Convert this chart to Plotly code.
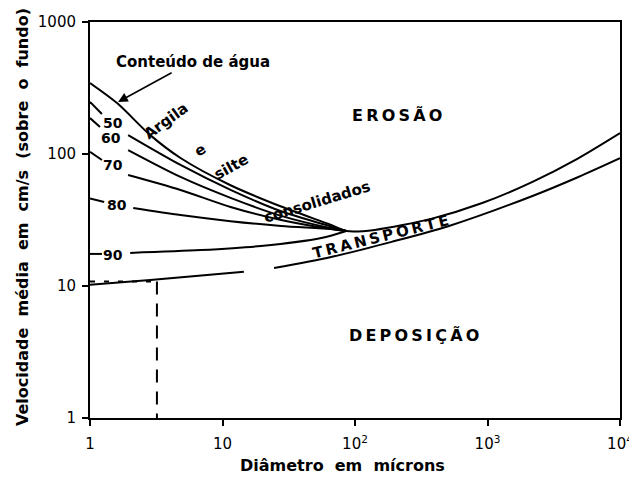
import numpy as np
import plotly.graph_objects as go

# ---------------- data ----------------
# upper boundary: "Argila e silte consolidados" curve continuing as the erosion threshold
top_x = [1, 1.6, 2.85, 4.82, 11.5, 27.7, 66, 86, 141, 381, 912, 2186, 4800, 10000]
top_y = [345, 243, 139, 93.3, 58, 40, 29, 26.1, 26.6, 32.4, 42.5, 61.5, 92.3, 144]

# water-content curves (stub from axis, gap for label, then the curve)
c50_x = [1, 1.23, None, 1.94, 4.82, 11.5, 27.7, 66, 86]
c50_y = [248, 201, None, 139, 82.6, 53.5, 36.8, 28.2, 26.1]
c60_x = [1, 1.19, None, 1.94, 4.82, 11.5, 27.7, 66, 86]
c60_y = [187, 160, None, 107, 67, 46.5, 34, 27.4, 26.1]
c70_x = [1, 1.23, None, 1.94, 4.82, 11.5, 27.7, 66, 86]
c70_y = [104, 90, None, 69.3, 53.4, 39.7, 31.6, 27, 26.1]
c80_x = [1, 1.28, None, 2.12, 4.82, 11.5, 27.7, 66, 86]
c80_y = [46, 43.3, None, 39, 34.5, 31, 28.5, 27, 26.1]
c90_x = [1, 1.23, None, 2.01, 6.84, 19.5, 55.7, 86]
c90_y = [17.5, 17.5, None, 17.8, 18.7, 20.1, 23.1, 26.1]

# lower boundary (deposition threshold)
low_x = [1, 2.85, 14.5, None, 24.5, 66, 189, 512, 2186, 4800, 10000]
low_y = [10.2, 11.1, 12.8, None, 13.7, 16.6, 21.6, 28.5, 48.1, 66.7, 93]

# dashed reference read-off
ref_x = [1, 3.2, 3.2]
ref_y = [10.8, 10.8, 1]

x_ticks = [1, 10, 100, 1000, 10000]
x_ticktext = ["1", "10", "10<sup>2</sup>", "10<sup>3</sup>", "10<sup>4</sup>"]
y_ticks = [1, 10, 100, 1000]
y_ticktext = ["1", "10", "100", "1000"]
curve_labels = ["50", "60", "70", "80", "90"]

# ---------------- figure ----------------
W, H = 629, 479
L, R, T, B = 90, 9, 22, 61
FONT = "DejaVu Sans"

def P(px, py):
    return (px - L) / (W - L - R), (H - B - py) / (H - T - B)

fig = go.Figure()
line = dict(color="black", width=2, shape="spline", smoothing=0.8)
for xs, ys in [(top_x, top_y), (c50_x, c50_y), (c60_x, c60_y), (c70_x, c70_y),
               (c80_x, c80_y), (c90_x, c90_y), (low_x, low_y)]:
    fig.add_trace(go.Scatter(x=xs, y=ys, mode="lines", line=line,
                             connectgaps=False, hoverinfo="skip", showlegend=False))

fig.add_trace(go.Scatter(x=ref_x[:2], y=ref_y[:2], mode="lines",
                         line=dict(color="black", width=2, dash="5px,9px"),
                         hoverinfo="skip", showlegend=False))
fig.add_trace(go.Scatter(x=ref_x[1:], y=ref_y[1:], mode="lines",
                         line=dict(color="black", width=2, dash="13px,9px"),
                         hoverinfo="skip", showlegend=False))

ann = []

def txt(s, px, py, size=15, angle=0, weight="bold"):
    x, y = P(px, py)
    ann.append(dict(text=s, x=x, y=y, xref="paper", yref="paper", showarrow=False,
                    xanchor="center", yanchor="middle", textangle=angle,
                    font=dict(family=FONT, size=size, color="black", weight=weight)))

thin = "\u2009"
txt("Conteúdo de água", 193, 62, 15)
txt("Argila", 166, 121, 15, -36)
txt("e", 200, 150, 15, -32)
txt("silte", 231, 167, 15, -29)
txt("consolidados", 317, 202, 15, -17)
txt(thin.join("EROSÃO"), 397, 116, 16)
txt(thin.join("TRANSPORTE"), 380, 237, 15, -14)
txt(thin.join("DEPOSIÇÃO"), 414, 335, 16)
for lab, (px, py) in zip(curve_labels, [(113, 123), (111, 138), (113, 165), (117, 205), (113, 255)]):
    txt(lab, px, py, 14)
txt("Velocidade  média  em  cm/s  (sobre  o  fundo)", 22, 217, 16, -90)
txt("Diâmetro  em  mícrons", 342, 466, 16)

# arrow for "Conteúdo de água"
ann.append(dict(x=np.log10(1.63), y=np.log10(248), xref="x", yref="y", text="",
                showarrow=True, ax=55, ay=-30, arrowhead=2, arrowsize=1.2,
                arrowwidth=1.6, arrowcolor="black"))

axis_common = dict(type="log", showgrid=False, zeroline=False, showline=True,
                   linecolor="black", linewidth=2, mirror=True, ticks="outside",
                   ticklen=6, tickwidth=2, tickcolor="black", ticklabeloverflow="allow",
                   tickfont=dict(family=FONT, size=15, color="black"))
fig.update_layout(
    width=W, height=H, margin=dict(l=L, r=R, t=T, b=B, autoexpand=False),
    paper_bgcolor="white", plot_bgcolor="white",
    xaxis=dict(range=[0, 4], tickvals=x_ticks, ticktext=x_ticktext,
               ticklabelstandoff=5, automargin=False, **axis_common),
    yaxis=dict(range=[0, 3], tickvals=y_ticks, ticktext=y_ticktext,
               ticklabelstandoff=3, automargin=False, **axis_common),
    annotations=ann, showlegend=False,
)
fig.write_html("out.html", config={"displayModeBar": False},
               post_script="document.body.style.margin='0';document.body.style.overflow='hidden';")
